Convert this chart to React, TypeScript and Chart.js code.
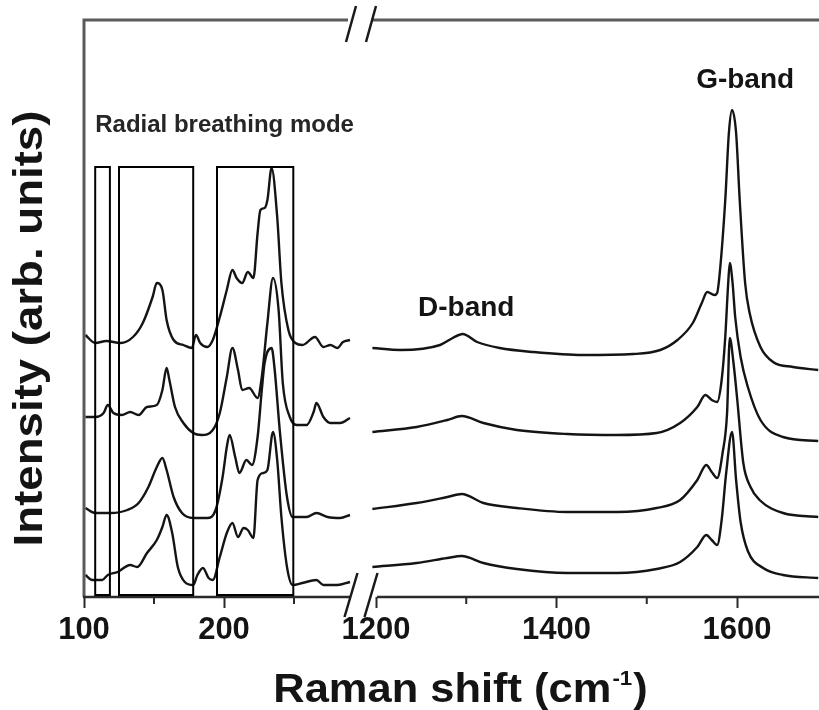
import { useEffect, useRef } from "react";
import { Chart, registerables } from "chart.js";

Chart.register(...registerables);

// Low-frequency window (radial breathing modes): [Raman shift cm-1, intensity]
const rbmSample1: [number, number][] = [
  [101, 262], [108, 254], [116, 256], [126, 254], [135, 260], [142, 274], [149, 300],
  [152, 314], [156, 307], [159, 277], [164, 257], [171, 252], [177, 249], [180, 262],
  [183, 254], [188, 250], [192, 257], [197, 280], [202, 307], [206, 327], [209, 319],
  [213, 314], [217, 325], [221, 319], [224, 364], [226, 387], [229, 389], [231, 397],
  [234, 429], [238, 380], [241, 314], [246, 267], [251, 254], [256, 252], [265, 260],
  [271, 250], [276, 252], [281, 249], [285, 255], [290, 257],
];
const rbmSample2: [number, number][] = [
  [101, 180], [108, 180], [114, 184], [117, 192], [121, 184], [127, 182], [133, 185],
  [139, 182], [145, 190], [152, 192], [156, 207], [159, 229], [161, 217], [165, 190],
  [171, 174], [178, 164], [184, 162], [192, 167], [197, 184], [202, 220], [206, 249],
  [210, 227], [213, 207], [218, 209], [224, 199], [227, 220], [231, 274], [235, 319],
  [239, 287], [242, 214], [247, 180], [252, 172], [259, 172], [264, 185], [266, 194],
  [271, 180], [276, 174], [283, 174], [290, 179],
];
const rbmSample3: [number, number][] = [
  [101, 89], [108, 84], [119, 84], [131, 87], [139, 94], [146, 110], [152, 130],
  [156, 139], [159, 127], [164, 100], [170, 84], [178, 79], [188, 79], [194, 87],
  [199, 120], [202, 150], [204, 162], [208, 140], [211, 124], [216, 137], [220, 132],
  [224, 160], [227, 207], [229, 234], [234, 249], [236, 230], [240, 164], [245, 100],
  [249, 80], [259, 80], [266, 84], [274, 80], [283, 79], [290, 82],
];
const rbmSample4: [number, number][] = [
  [101, 22], [106, 17], [113, 17], [117, 22], [124, 25], [133, 32], [138, 30],
  [145, 44], [152, 57], [156, 70], [159, 82], [163, 64], [167, 30], [172, 15],
  [178, 12], [181, 22], [185, 29], [189, 19], [192, 17], [197, 40], [202, 64],
  [206, 74], [210, 60], [214, 69], [217, 67], [221, 59], [224, 117], [228, 124],
  [231, 127], [235, 165], [238, 137], [241, 80], [245, 30], [249, 12], [256, 14],
  [266, 17], [271, 12], [281, 12], [290, 15],
];

// High-frequency window (D and G bands)
const bandSample1: [number, number][] = [
  [1196, 249], [1227, 247], [1271, 252], [1285, 259], [1296, 263], [1312, 255],
  [1337, 249], [1374, 245], [1429, 242], [1485, 243], [1515, 247], [1534, 257],
  [1551, 274], [1561, 294], [1567, 305], [1575, 302], [1578, 304], [1581, 325],
  [1587, 397], [1591, 464], [1594.5, 487], [1599, 464], [1603, 397], [1609, 314],
  [1614, 284], [1626, 250], [1640, 235], [1662, 230], [1690, 227],
];
const bandSample2: [number, number][] = [
  [1196, 165], [1245, 170], [1279, 177], [1295, 181], [1319, 174], [1356, 167],
  [1412, 163], [1467, 162], [1511, 164], [1537, 174], [1556, 190], [1565, 202],
  [1572, 197], [1578, 195], [1583, 217], [1587, 260], [1590, 310], [1592, 334],
  [1595, 315], [1598, 280], [1604, 240], [1612, 210], [1626, 177], [1651, 160],
  [1690, 156],
];
const bandSample3: [number, number][] = [
  [1196, 88], [1245, 94], [1279, 100], [1295, 103], [1319, 94], [1356, 89],
  [1412, 85], [1467, 85], [1511, 89], [1537, 97], [1556, 117], [1566, 132],
  [1572, 125], [1578, 119], [1584, 144], [1589, 184], [1592, 259], [1596, 235],
  [1600, 200], [1607, 134], [1615, 110], [1625, 97], [1651, 84], [1690, 80],
];
const bandSample4: [number, number][] = [
  [1196, 30], [1245, 34], [1279, 39], [1295, 41], [1319, 34], [1356, 28],
  [1412, 24], [1467, 24], [1511, 28], [1537, 35], [1556, 50], [1566, 62],
  [1572, 57], [1578, 52], [1583, 77], [1588, 124], [1594.5, 165], [1599, 117],
  [1604, 75], [1612, 46], [1629, 29], [1651, 22], [1690, 19],
];

// Axis ticks (cm-1); empty label = minor tick
const tickValues = [100, 150, 200, 250, 1200, 1300, 1400, 1500, 1600];
const tickLabels = ["100", "", "200", "", "1200", "", "1400", "", "1600"];

// Highlighted RBM windows (cm-1) and their height
const rbmWindows: [number, number][] = [[108, 118.5], [125, 178], [195, 249.5]];
const rbmWindowTop = 430;

// Broken x axis: 100-290 cm-1 on the left, 1195-1690 cm-1 on the right
const LOW_START = 100;
const LOW_END = 290;
const LOW_SCALE = 1.4;
const HIGH_START = 1200;
const HIGH_SCALE = 0.9025;
const HIGH_OFFSET = 292;
const AXIS_MAX = 735;
const Y_MAX = 577;

function toAxis(wn: number): number {
  return wn < 700 ? (wn - LOW_START) * LOW_SCALE : HIGH_OFFSET + (wn - HIGH_START) * HIGH_SCALE;
}

const FONT = '"Liberation Sans", Arial, Helvetica, sans-serif';
const INK = "#141414";

const brokenFrame = {
  id: "brokenFrame",
  afterDraw(chart: any) {
    const { ctx, chartArea: a, scales } = chart;
    const x = scales.x;
    const y = scales.y;
    const px = (w: number) => x.getPixelForValue(toAxis(w));
    const leftEnd = px(LOW_END);
    const rightStart = leftEnd + 27;
    const slashes = [leftEnd + 1, leftEnd + 21];

    ctx.save();
    ctx.lineCap = "butt";

    // left frame and top frame (with gap)
    ctx.strokeStyle = "#5a5a5a";
    ctx.lineWidth = 3;
    ctx.beginPath();
    ctx.moveTo(a.left, a.bottom);
    ctx.lineTo(a.left, a.top);
    ctx.lineTo(leftEnd - 2, a.top);
    ctx.moveTo(rightStart - 5, a.top);
    ctx.lineTo(a.right, a.top);
    ctx.stroke();

    // bottom axis (with gap)
    ctx.strokeStyle = "#2a2a2a";
    ctx.lineWidth = 2.5;
    ctx.beginPath();
    ctx.moveTo(a.left - 1, a.bottom);
    ctx.lineTo(leftEnd, a.bottom);
    ctx.moveTo(rightStart, a.bottom);
    ctx.lineTo(a.right, a.bottom);
    ctx.stroke();

    // minor ticks
    ctx.lineWidth = 2;
    ctx.beginPath();
    tickValues.forEach((v, i) => {
      if (tickLabels[i]) return;
      const tx = px(v);
      ctx.moveTo(tx, a.bottom);
      ctx.lineTo(tx, a.bottom + 7);
    });
    ctx.stroke();

    // break marks
    ctx.strokeStyle = "#1a1a1a";
    ctx.lineWidth = 2.5;
    ctx.beginPath();
    slashes.forEach((sx) => {
      ctx.moveTo(sx + 5, a.top - 14);
      ctx.lineTo(sx - 5, a.top + 22);
      ctx.moveTo(sx + 6.5, a.bottom - 24);
      ctx.lineTo(sx - 6.5, a.bottom + 20);
    });
    ctx.stroke();

    // RBM windows
    ctx.strokeStyle = "#000";
    ctx.lineWidth = 2;
    const yTop = y.getPixelForValue(rbmWindowTop);
    const yBot = y.getPixelForValue(2);
    rbmWindows.forEach(([w0, w1]) => {
      const x0 = px(w0);
      const x1 = px(w1);
      ctx.strokeRect(x0, yTop, x1 - x0, yBot - yTop);
    });

    // annotations
    ctx.fillStyle = "#262626";
    ctx.textBaseline = "middle";
    ctx.font = `bold 24px ${FONT}`;
    ctx.textAlign = "left";
    ctx.fillText("Radial breathing mode", px(108), y.getPixelForValue(472));
    ctx.fillStyle = INK;
    ctx.font = `bold 28px ${FONT}`;
    ctx.textAlign = "center";
    ctx.fillText("D-band", px(1300), y.getPixelForValue(289));
    ctx.fillText("G-band", px(1609), y.getPixelForValue(517));

    // x title with superscript
    ctx.save();
    const cx = (a.left + a.right) / 2 + 9;
    ctx.translate(cx, 702);
    ctx.scale(1.06, 1);
    ctx.textAlign = "left";
    ctx.textBaseline = "alphabetic";
    const main = "Raman shift (cm";
    const sup = "-1";
    const close = ")";
    ctx.font = `bold 41px ${FONT}`;
    const wMain = ctx.measureText(main).width;
    const wClose = ctx.measureText(close).width;
    ctx.font = `bold 21px ${FONT}`;
    const wSup = ctx.measureText(sup).width;
    const total = wMain + wSup + 2 + wClose;
    let sx = -total / 2;
    ctx.font = `bold 41px ${FONT}`;
    ctx.fillText(main, sx, 0);
    sx += wMain + 1;
    ctx.font = `bold 21px ${FONT}`;
    ctx.fillText(sup, sx, -17);
    sx += wSup + 1;
    ctx.font = `bold 41px ${FONT}`;
    ctx.fillText(close, sx, 0);
    ctx.restore();

    // y title
    ctx.save();
    ctx.translate(42, (a.top + a.bottom) / 2 + 20);
    ctx.rotate(-Math.PI / 2);
    ctx.scale(1.14, 1);
    ctx.font = `bold 40px ${FONT}`;
    ctx.textAlign = "center";
    ctx.textBaseline = "alphabetic";
    ctx.fillText("Intensity (arb. units)", 0, 0);
    ctx.restore();

    ctx.restore();
  },
};

export default function App() {
  const canvasRef = useRef<HTMLCanvasElement | null>(null);

  useEffect(() => {
    const canvas = canvasRef.current;
    if (!canvas) return;
    const series = [
      rbmSample1, rbmSample2, rbmSample3, rbmSample4,
      bandSample1, bandSample2, bandSample3, bandSample4,
    ];
    const chart = new Chart(canvas, {
      type: "line",
      data: {
        datasets: series.map((s) => ({
          data: s.map(([w, v]) => ({ x: toAxis(w), y: v })),
          borderColor: INK,
          borderWidth: 2.4,
          pointRadius: 0,
          fill: false,
          cubicInterpolationMode: "monotone" as const,
        })),
      },
      options: {
        responsive: false,
        animation: false,
        devicePixelRatio: 1,
        layout: { padding: { left: 84, top: 20, right: 0, bottom: 0 } },
        plugins: { legend: { display: false }, tooltip: { enabled: false } },
        scales: {
          x: {
            type: "linear",
            min: 0,
            max: AXIS_MAX,
            afterBuildTicks: (scale: any) => {
              scale.ticks = tickValues.map((v) => ({ value: toAxis(v) }));
            },
            afterFit: (scale: any) => {
              scale.height = 113;
            },
            border: { display: false },
            grid: {
              drawOnChartArea: false,
              drawTicks: true,
              tickLength: 11,
              tickWidth: 2,
              tickColor: (c: any) => (tickLabels[c.index] ? "#2a2a2a" : "rgba(0,0,0,0)"),
            },
            ticks: {
              autoSkip: false,
              maxRotation: 0,
              padding: 4,
              color: INK,
              font: { family: FONT, size: 31, weight: "bold" },
              callback: (_v: any, i: number) => tickLabels[i],
            },
          },
          y: {
            type: "linear",
            display: false,
            min: 0,
            max: Y_MAX,
          },
        },
      },
      plugins: [brokenFrame],
    });
    return () => chart.destroy();
  }, []);

  return (
    <div style={{ position: "absolute", left: 0, top: 0, width: 819, height: 710, background: "#fff" }}>
      <canvas ref={canvasRef} width={819} height={710} />
    </div>
  );
}
